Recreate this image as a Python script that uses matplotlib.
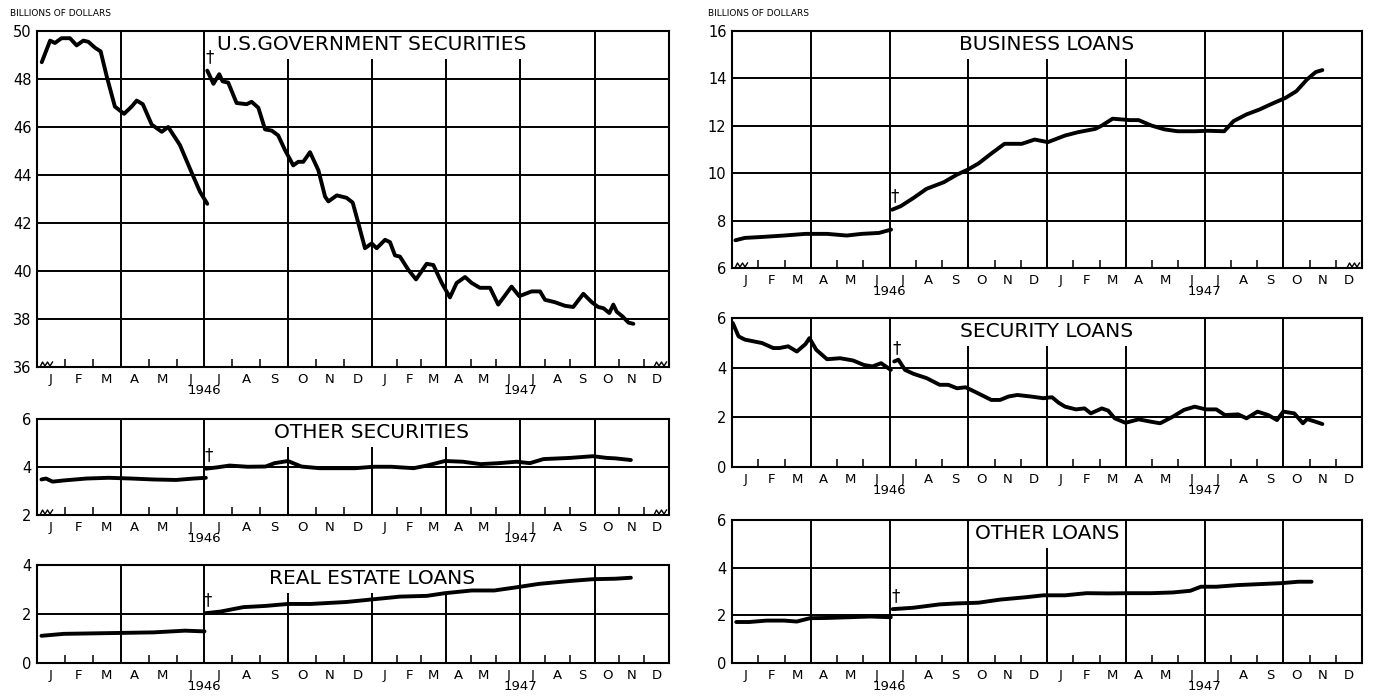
import numpy as np
import matplotlib
matplotlib.use('Agg')
import matplotlib.pyplot as plt

# months since 1 Jan 1946, billions of dollars
month_labels = ['J', 'F', 'M', 'A', 'M', 'J', 'J', 'A', 'S', 'O', 'N', 'D'] * 2
year_labels = ['1946', '1947']

govt_x1 = [0.17, 0.47, 0.64, 0.88, 1.18, 1.42, 1.66, 1.84, 2.08, 2.28, 2.5, 2.79, 3.12, 3.39, 3.57,
           3.79, 4.11, 4.47, 4.7, 5.12, 5.54, 5.84, 6.1]
govt_y1 = [48.7, 49.6, 49.5, 49.7, 49.7, 49.4, 49.6, 49.55, 49.3, 49.15, 48.1, 46.85, 46.55, 46.85, 47.1,
           46.95, 46.1, 45.8, 46.0, 45.25, 44.1, 43.3, 42.8]
govt_x2 = [6.1, 6.32, 6.53, 6.65, 6.85, 7.15, 7.51, 7.69, 7.93, 8.17, 8.41, 8.64, 8.88, 9.18, 9.36,
           9.54, 9.78, 10.08, 10.32, 10.44, 10.74, 11.09, 11.31, 11.51, 11.75, 11.99, 12.19, 12.53,
           12.73, 12.93, 13.13, 13.47, 13.78, 14.21, 14.48, 14.82, 15.15, 15.42, 15.76, 16.03, 16.36,
           16.77, 17.1, 17.64, 17.95, 18.45, 18.79, 18.99, 19.39, 19.8, 20.13, 20.54, 20.88, 21.14,
           21.35, 21.59, 21.75, 21.89, 22.13, 22.36, 22.56]
govt_y2 = [48.35, 47.8, 48.2, 47.9, 47.85, 47.0, 46.95, 47.05, 46.8, 45.9, 45.85, 45.65, 45.05, 44.4, 44.55,
           44.55, 44.95, 44.2, 43.1, 42.9, 43.15, 43.05, 42.85, 42.0, 40.95, 41.15, 40.95, 41.3,
           41.2, 40.65, 40.6, 40.05, 39.65, 40.3, 40.25, 39.5, 38.9, 39.5, 39.75, 39.5, 39.3,
           39.3, 38.6, 39.35, 38.95, 39.15, 39.15, 38.8, 38.7, 38.55, 38.5, 39.05, 38.7, 38.5,
           38.45, 38.25, 38.6, 38.3, 38.1, 37.85, 37.8]

othsec_x1 = [0.16, 0.32, 0.56, 0.96, 1.77, 2.57, 3.37, 4.18, 4.98, 5.62, 6.05]
othsec_y1 = [3.48, 3.52, 3.39, 3.44, 3.52, 3.55, 3.52, 3.48, 3.46, 3.52, 3.55]
othsec_x2 = [6.05, 6.42, 6.9, 7.55, 8.19, 8.51, 8.99, 9.47, 10.12, 11.4, 12.05, 12.78, 13.68, 14.22,
             14.95, 15.67, 16.39, 17.12, 17.84, 18.38, 18.93, 20.02, 20.93, 21.47, 21.83, 22.46]
othsec_y2 = [3.93, 3.98, 4.06, 4.01, 4.02, 4.16, 4.25, 4.02, 3.95, 3.95, 4.01, 4.01, 3.95, 4.06,
             4.25, 4.22, 4.12, 4.16, 4.22, 4.16, 4.33, 4.38, 4.45, 4.38, 4.36, 4.29]

realest_x1 = [0.16, 0.96, 2.57, 4.18, 5.3, 6.0]
realest_y1 = [1.11, 1.19, 1.22, 1.25, 1.32, 1.29]
realest_x2 = [6.02, 6.58, 7.39, 8.19, 8.99, 9.8, 11.08, 12.05, 13.14, 14.22, 14.95, 16.03, 16.94,
              17.84, 18.75, 20.02, 20.93, 21.83, 22.46]
realest_y2 = [2.03, 2.1, 2.28, 2.33, 2.41, 2.41, 2.49, 2.6, 2.71, 2.74, 2.85, 2.96, 2.96,
              3.09, 3.23, 3.35, 3.42, 3.44, 3.48]

bus_x1 = [0.13, 0.49, 1.15, 1.98, 2.8, 3.62, 4.37, 4.94, 5.6, 6.06]
bus_y1 = [7.17, 7.27, 7.31, 7.37, 7.44, 7.44, 7.37, 7.44, 7.48, 7.62]
bus_x2 = [6.1, 6.43, 6.92, 7.41, 8.07, 8.57, 8.98, 9.39, 9.88, 10.38, 11.04, 11.53, 12.03, 12.69,
          13.18, 13.84, 14.09, 14.5, 15.16, 15.49, 15.98, 16.47, 16.97, 17.63, 18.12, 18.75, 19.11,
          19.6, 20.1, 20.59, 21.09, 21.5, 21.91, 22.24, 22.49]
bus_y2 = [8.46, 8.61, 8.96, 9.34, 9.62, 9.94, 10.15, 10.41, 10.83, 11.24, 11.24, 11.42, 11.31, 11.59,
          11.73, 11.87, 12.01, 12.3, 12.24, 12.24, 12.01, 11.85, 11.77, 11.77, 11.79, 11.77, 12.2,
          12.48, 12.69, 12.94, 13.18, 13.46, 13.96, 14.27, 14.35]

secl_x1 = [0.03, 0.25, 0.49, 0.82, 1.15, 1.57, 1.81, 2.14, 2.47, 2.8, 2.95, 3.21, 3.62, 4.12, 4.61,
           5.02, 5.35, 5.68, 6.05]
secl_y1 = [5.8, 5.26, 5.13, 5.06, 4.99, 4.79, 4.79, 4.86, 4.65, 4.95, 5.19, 4.72, 4.34, 4.38, 4.29,
           4.11, 4.05, 4.18, 3.91]
secl_x2 = [6.18, 6.34, 6.59, 6.92, 7.41, 7.91, 8.24, 8.57, 8.9, 9.31, 9.88, 10.21, 10.54, 10.87,
           11.37, 11.86, 12.19, 12.44, 12.69, 13.1, 13.43, 13.67, 14.09, 14.33, 14.58, 14.99, 15.49,
           15.98, 16.31, 16.8, 17.22, 17.63, 18.04, 18.45, 18.78, 19.28, 19.6, 20.02, 20.43, 20.76,
           21.0, 21.42, 21.75, 21.91, 22.24, 22.49]
secl_y2 = [4.25, 4.32, 3.91, 3.75, 3.58, 3.31, 3.31, 3.17, 3.21, 3.0, 2.7, 2.7, 2.84, 2.9,
           2.84, 2.77, 2.81, 2.59, 2.43, 2.32, 2.36, 2.16, 2.36, 2.27, 1.96, 1.78, 1.92,
           1.82, 1.76, 2.03, 2.3, 2.43, 2.32, 2.32, 2.09, 2.12, 1.96, 2.23, 2.09, 1.89,
           2.23, 2.16, 1.76, 1.93, 1.82, 1.73]

othl_x1 = [0.16, 0.66, 1.32, 1.98, 2.47, 2.97, 3.62, 4.45, 5.27, 6.05]
othl_y1 = [1.72, 1.72, 1.78, 1.78, 1.74, 1.88, 1.89, 1.92, 1.95, 1.92]
othl_x2 = [6.12, 6.92, 7.91, 8.57, 9.39, 10.21, 11.2, 11.86, 12.69, 13.51, 14.33, 15.16, 15.98,
           16.8, 17.46, 17.86, 18.45, 19.28, 20.1, 20.92, 21.58, 22.08]
othl_y2 = [2.26, 2.32, 2.46, 2.5, 2.53, 2.66, 2.76, 2.84, 2.84, 2.93, 2.92, 2.93, 2.93,
           2.96, 3.03, 3.2, 3.2, 3.27, 3.31, 3.35, 3.41, 3.41]


# the left-hand charts give 1946 a bit more width than 1947
def warp_fwd(x):
    x = np.asarray(x, dtype=float)
    return np.where(x < 12, x * 1.06, 12.72 + (x - 12) * 0.94)


def warp_inv(u):
    u = np.asarray(u, dtype=float)
    return np.where(u < 12.72, u / 1.06, 12 + (u - 12.72) / 0.94)


W, H = 1373, 700
fig = plt.figure(figsize=(W / 100, H / 100), dpi=100)


def squiggle(ax, side):
    pos = ax.get_position()
    w_px, h_px = pos.width * W, pos.height * H
    px = np.array([0, 2.5, 5, 7.5, 10, 12.5])
    py = np.array([0, 5, 1, 5, 1, 5])
    if side == 'left':
        xs = (3 + px) / w_px
    else:
        xs = 1 - (15 - px) / w_px
    ax.plot(xs, py / h_px, color='k', lw=1.0, transform=ax.transAxes, clip_on=False, zorder=6)


def panel(rect, segs, ylim, step, title, warp=False, breaks=False):
    ax = fig.add_axes(rect)
    if warp:
        ax.set_xscale('function', functions=(warp_fwd, warp_inv))
    ax.set_xlim(0, 24)
    ax.set_ylim(*ylim)

    for q in range(3, 24, 3):
        ax.axvline(q, color='k', lw=1.4, zorder=1)
    for v in np.arange(ylim[0] + step, ylim[1], step):
        ax.axhline(v, color='k', lw=1.4, zorder=1)

    ax.set_yticks(np.arange(ylim[0], ylim[1] + step / 2, step))
    ax.set_xticks(np.arange(24) + 0.5)
    ax.set_xticklabels(month_labels)
    ax.set_xticks([m for m in range(1, 24) if m % 3], minor=True)
    ax.tick_params(axis='x', which='major', length=0, pad=4, labelsize=9.5)
    ax.tick_params(axis='x', which='minor', direction='in', length=6, width=1.1)
    ax.tick_params(axis='y', length=0, pad=4, labelsize=10.5)
    for s in ax.spines.values():
        s.set_linewidth(1.5)
        s.set_zorder(5)

    for x, y in segs:
        ax.plot(x, y, color='k', lw=2.8, solid_capstyle='round', solid_joinstyle='round', zorder=4)
    x2, y2 = segs[1]
    ax.annotate('\u2020', xy=(x2[0], y2[0]), xytext=(2, 3), textcoords='offset points',
                ha='center', va='bottom', fontsize=12, zorder=6)

    ax.annotate(title, xy=(12, 1), xycoords=('data', 'axes fraction'), xytext=(0, -10),
                textcoords='offset points', ha='center', va='center', fontsize=14.5, zorder=3,
                bbox=dict(facecolor='white', edgecolor='none', pad=3))

    for i, yr in enumerate(year_labels):
        ax.annotate(yr, xy=(6 + 12 * i, 0), xycoords=('data', 'axes fraction'), xytext=(0, -12.5),
                    textcoords='offset points', ha='center', va='top', fontsize=9.5)
    if breaks:
        squiggle(ax, 'left')
        squiggle(ax, 'right')
    return ax


lx, lw = 37 / W, 632 / W
rx, rw = 732 / W, 630 / W

panel([lx, 1 - 367 / H, lw, 336 / H], [(govt_x1, govt_y1), (govt_x2, govt_y2)],
      (36, 50), 2, 'U.S.GOVERNMENT SECURITIES', warp=True, breaks=True)
panel([lx, 1 - 515 / H, lw, 96 / H], [(othsec_x1, othsec_y1), (othsec_x2, othsec_y2)],
      (2, 6), 2, 'OTHER SECURITIES', warp=True, breaks=True)
panel([lx, 1 - 663 / H, lw, 98 / H], [(realest_x1, realest_y1), (realest_x2, realest_y2)],
      (0, 4), 2, 'REAL ESTATE LOANS', warp=True)

panel([rx, 1 - 268 / H, rw, 237 / H], [(bus_x1, bus_y1), (bus_x2, bus_y2)],
      (6, 16), 2, 'BUSINESS LOANS', breaks=True)
panel([rx, 1 - 467 / H, rw, 149 / H], [(secl_x1, secl_y1), (secl_x2, secl_y2)],
      (0, 6), 2, 'SECURITY LOANS')
panel([rx, 1 - 663 / H, rw, 143 / H], [(othl_x1, othl_y1), (othl_x2, othl_y2)],
      (0, 6), 2, 'OTHER LOANS')

fig.text(10 / W, 1 - 14 / H, 'BILLIONS OF DOLLARS', fontsize=6.5, va='center', ha='left')
fig.text(708 / W, 1 - 14 / H, 'BILLIONS OF DOLLARS', fontsize=6.5, va='center', ha='left')

fig.savefig('out.png', dpi=100)
